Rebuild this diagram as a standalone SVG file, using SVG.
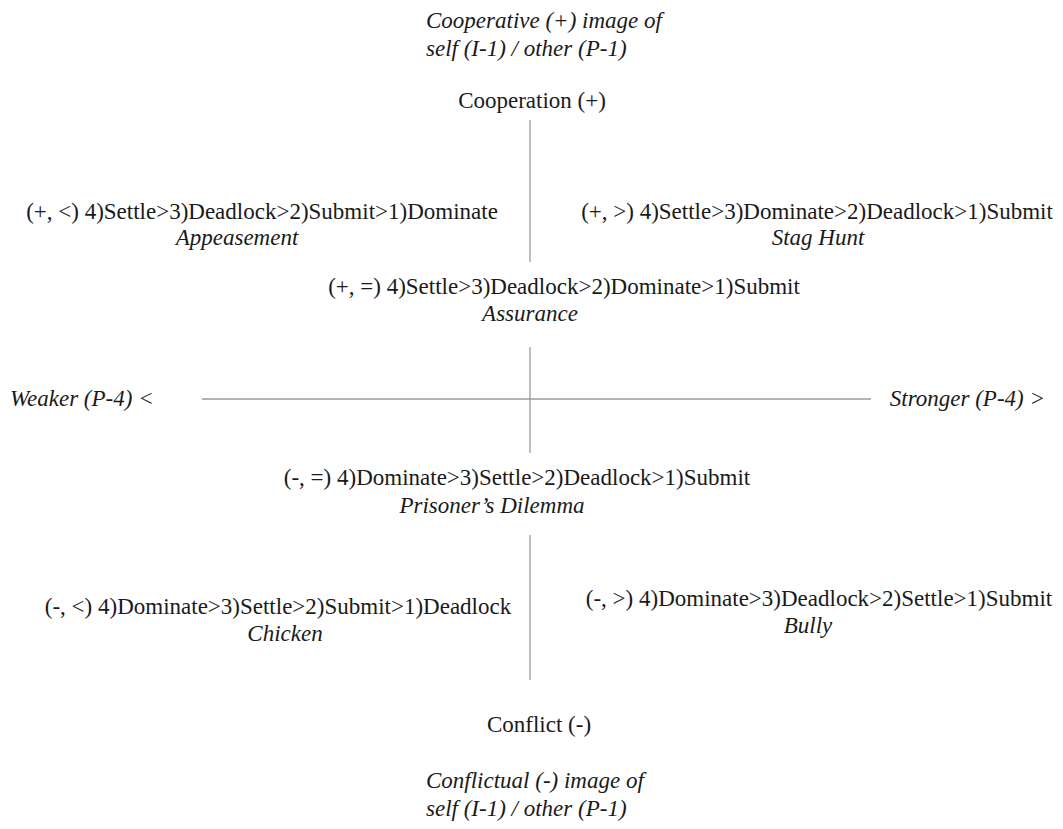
<svg xmlns="http://www.w3.org/2000/svg" width="1063" height="829" viewBox="0 0 1063 829">
<style>
text{font-family:"Liberation Serif","Times New Roman",serif;font-size:23px;fill:#1a1a1a}
.i{font-style:italic}
.m{text-anchor:middle}
.ax{stroke:#9a9a9a;stroke-width:1.3;fill:none}
</style>
<rect width="1063" height="829" fill="#fff"/>
<g id="connectors">
<line class="ax" x1="530" y1="120" x2="530" y2="262"/>
<line class="ax" x1="530" y1="347" x2="530" y2="453"/>
<line class="ax" x1="530" y1="535" x2="530" y2="680"/>
<line class="ax" x1="202" y1="399" x2="871" y2="399"/>
</g>
<g id="top-label"><text class="i" x="426" y="28">Cooperative (+) image of</text><text class="i" x="426" y="56">self (I-1) / other (P-1)</text></g>
<g id="cooperation"><text class="m" x="532" y="108">Cooperation (+)</text></g>
<g id="appeasement"><text class="m" x="262" y="219">(+, &lt;) 4)Settle&gt;3)Deadlock&gt;2)Submit&gt;1)Dominate</text><text class="i m" x="237" y="245">Appeasement</text></g>
<g id="staghunt"><text class="m" x="817" y="219">(+, &gt;) 4)Settle&gt;3)Dominate&gt;2)Deadlock&gt;1)Submit</text><text class="i m" x="818" y="245">Stag Hunt</text></g>
<g id="assurance"><text class="m" x="564" y="294">(+, =) 4)Settle&gt;3)Deadlock&gt;2)Dominate&gt;1)Submit</text><text class="i m" x="530" y="321">Assurance</text></g>
<g id="weaker"><text class="i" x="10" y="406">Weaker (P-4) &lt;</text></g>
<g id="stronger"><text class="i" x="1045" y="406" text-anchor="end">Stronger (P-4) &gt;</text></g>
<g id="pd"><text class="m" x="517" y="485">(-, =) 4)Dominate&gt;3)Settle&gt;2)Deadlock&gt;1)Submit</text><text class="i m" x="492" y="513">Prisoner’s Dilemma</text></g>
<g id="chicken"><text class="m" x="278" y="614">(-, &lt;) 4)Dominate&gt;3)Settle&gt;2)Submit&gt;1)Deadlock</text><text class="i m" x="285" y="641">Chicken</text></g>
<g id="bully"><text class="m" x="819" y="606">(-, &gt;) 4)Dominate&gt;3)Deadlock&gt;2)Settle&gt;1)Submit</text><text class="i m" x="808" y="633">Bully</text></g>
<g id="conflict"><text class="m" x="539" y="732">Conflict (-)</text></g>
<g id="bottom-label"><text class="i" x="426" y="788">Conflictual (-) image of</text><text class="i" x="426" y="816">self (I-1) / other (P-1)</text></g>
</svg>
